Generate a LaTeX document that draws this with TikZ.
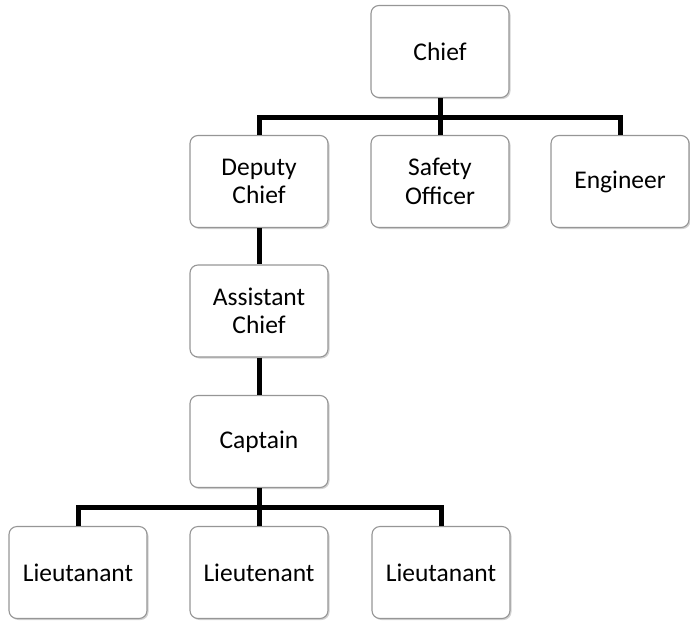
\documentclass[tikz,border=0pt]{standalone}
\usepackage{fontspec}
\setmainfont{Carlito}
\usetikzlibrary{shadows}
\definecolor{boxline}{RGB}{150,150,150}
\begin{document}
\begin{tikzpicture}[x=1pt,y=-1pt,
  box/.style={draw=boxline, line width=1.1pt, rounded corners=8pt, fill=white,
    minimum width=138pt, minimum height=92pt, align=center, inner sep=2pt,
    font=\fontsize{25.5}{28.5}\selectfont,
    drop shadow={shadow xshift=1.5pt, shadow yshift=-1.5pt, opacity=0.35, fill=gray}},
  conn/.style={line width=5pt, line join=miter, black}]
\useasboundingbox (0,0) rectangle (690,621);
\node[box] (chief) at (440,51.5) {Chief};
\node[box] (deputy) at (259,181.5) {Deputy\\Chief};
\node[box] (safety) at (440,181.5) {Safety\\Officer};
\node[box] (engineer) at (620,181.5) {Engineer};
\node[box] (assistant) at (259,311) {Assistant\\Chief};
\node[box] (captain) at (259,441.5) {Captain};
\node[box] (lt1) at (78,572.5) {Lieutanant};
\node[box] (lt2) at (259,572.5) {Lieutenant};
\node[box] (lt3) at (441,572.5) {Lieutanant};
\coordinate (busA) at (440,117);
\coordinate (busB) at (259,507);
\draw[conn] (chief.south) -- (chief.south |- busA);
\draw[conn] (deputy.north) |- (busA) -| (engineer.north);
\draw[conn] (safety.north) -- (safety.north |- busA);
\draw[conn] (deputy.south) -- (assistant.north);
\draw[conn] (assistant.south) -- (captain.north);
\draw[conn] (captain.south) -- (captain.south |- busB);
\draw[conn] (lt1.north) |- (busB) -| (lt3.north);
\draw[conn] (lt2.north) -- (lt2.north |- busB);
\end{tikzpicture}
\end{document}
